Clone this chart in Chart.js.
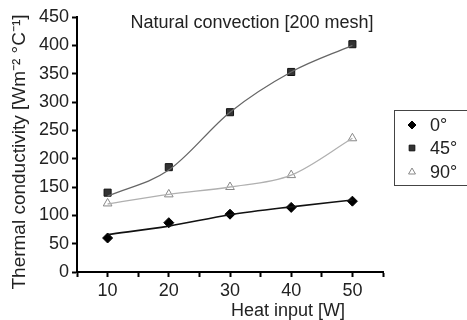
<!DOCTYPE html>
<html>
<head>
<meta charset="utf-8">
<script src="https://cdn.jsdelivr.net/npm/chart.js@4.4.0/dist/chart.umd.min.js"></script>
<style>
  html, body { margin: 0; padding: 0; background: #fff; }
  #wrap { width: 467px; height: 320px; }
</style>
</head>
<body>
<div id="wrap"><canvas id="chart" width="467" height="320"></canvas></div>
<script>
const heatInput = [10, 20, 30, 40, 50];
const labels = ['0°', '45°', '90°'];

// measured points
const k0 = [60, 87, 102, 114, 125];
const k45 = [140, 185, 282, 353, 402];
const k90 = [121, 137, 150, 171, 236];

// fitted curves as drawn in the figure
const fit0 = [66, 81, 101, 115, 127];
const fit45 = [134, 180, 282, 353, 400];
const fit90 = [120, 137, 150, 171, 236];

const xTicks = [10, 20, 30, 40, 50];

const FONT = '"Liberation Sans", Arial, sans-serif';

const pts = (ys) => heatInput.map((x, i) => ({ x: x, y: ys[i] }));

const fitLine = (ys, color, w) => ({
  data: pts(ys), borderColor: color, borderWidth: w, pointRadius: 0,
  tension: 0.4, cubicInterpolationMode: 'monotone', fill: false
});
const marks = (label, ys, style, fillC, borderC) => ({
  label: label, data: pts(ys), showLine: false, pointStyle: style,
  pointRadius: 5, pointBackgroundColor: fillC, pointBorderColor: borderC,
  pointBorderWidth: 1
});

const datasets = [
  fitLine(fit0, '#111', 1.6),
  fitLine(fit45, '#666', 1.3),
  fitLine(fit90, '#b0b0b0', 1.3),
  marks(labels[0], k0, 'rectRot', '#000', '#000'),
  marks(labels[1], k45, 'rect', '#333', '#111'),
  marks(labels[2], k90, 'triangle', '#fff', '#888')
];

// titles + boxed legend on the right
const extras = {
  id: 'extras',
  afterDraw(chart) {
    const ctx = chart.ctx;
    ctx.save();
    ctx.fillStyle = '#222';
    ctx.textAlign = 'center';
    ctx.textBaseline = 'middle';
    ctx.font = '18px ' + FONT;
    ctx.fillText('Natural convection [200 mesh]', 252, 23);
    ctx.fillText('Heat input [W]', 288, 311);

    ctx.save();
    ctx.translate(20, 152);
    ctx.rotate(-Math.PI / 2);
    ctx.font = '19px ' + FONT;
    ctx.fillText('Thermal conductivity [Wm⁻² °C⁻¹]', 0, 0);
    ctx.restore();

    ctx.strokeStyle = '#444';
    ctx.lineWidth = 1;
    ctx.strokeRect(394.5, 110.5, 90, 75);
    ctx.font = '18px ' + FONT;
    ctx.textAlign = 'left';
    const ys = [125, 148, 172];
    for (let i = 0; i < 3; i++) {
      const ds = chart.data.datasets[3 + i];
      ctx.fillStyle = ds.pointBackgroundColor;
      ctx.strokeStyle = ds.pointBorderColor;
      Chart.helpers.drawPoint(ctx, { pointStyle: ds.pointStyle, radius: 4, rotation: 0, borderWidth: 1 }, 412, ys[i]);
      ctx.fillStyle = '#222';
      ctx.fillText(ds.label, 430, ys[i] + 1);
    }
    ctx.restore();
  }
};

new Chart(document.getElementById('chart'), {
  type: 'line',
  data: { datasets: datasets },
  plugins: [extras],
  options: {
    responsive: false,
    animation: false,
    layout: { padding: { top: 17, right: 84, left: 0, bottom: 0 } },
    plugins: { legend: { display: false }, tooltip: { enabled: false } },
    scales: {
      x: {
        type: 'linear', min: 5, max: 55,
        afterFit: (s) => { s.height = 48; },
        border: { color: '#000', width: 2 },
        grid: { drawOnChartArea: false, tickLength: 5, tickWidth: 2, tickColor: '#000' },
        ticks: {
          stepSize: 5, padding: 3, color: '#222', maxRotation: 0, autoSkip: false,
          font: { family: FONT, size: 18 },
          callback: (v) => xTicks.includes(v) ? String(v) : ''
        }
      },
      y: {
        min: 0, max: 450,
        afterFit: (s) => { s.width = 77; },
        border: { color: '#000', width: 2 },
        grid: { drawOnChartArea: false, tickLength: 5, tickWidth: 2, tickColor: '#000' },
        ticks: {
          stepSize: 50, padding: 3, color: '#222',
          font: { family: FONT, size: 18 }
        }
      }
    }
  }
});
</script>
</body>
</html>
